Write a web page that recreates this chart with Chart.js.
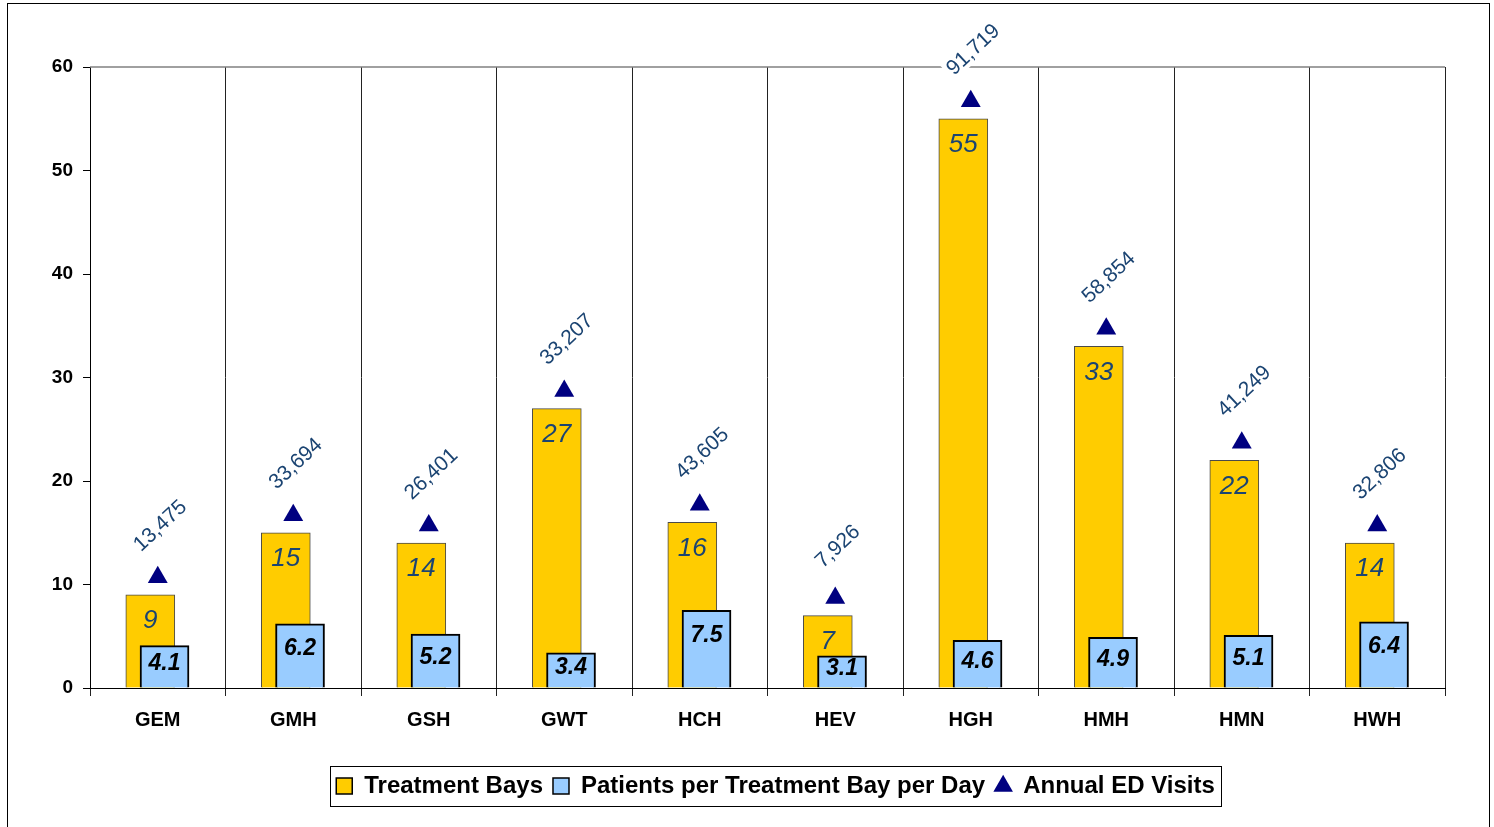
<!DOCTYPE html>
<html>
<head>
<meta charset="utf-8">
<script src="https://cdn.jsdelivr.net/npm/chart.js@4.4.1/dist/chart.umd.min.js"></script>
<style>
  html, body { margin: 0; padding: 0; background: #fff; overflow: hidden; }
  #frame { position: absolute; left: 7px; top: 3px; width: 1481px; height: 900px; border: 1px solid #000; }
  #wrap { position: absolute; left: 0; top: 0; width: 1494px; height: 827px; }
</style>
</head>
<body>
<div id="frame"></div>
<div id="wrap"><canvas id="edChart" width="1494" height="827"></canvas></div>
<script>
// data
const categories = ['GEM', 'GMH', 'GSH', 'GWT', 'HCH', 'HEV', 'HGH', 'HMH', 'HMN', 'HWH'];
const treatmentBays = [9, 15, 14, 27, 16, 7, 55, 33, 22, 14];
const patientsPerBay = [4.1, 6.2, 5.2, 3.4, 7.5, 3.1, 4.6, 4.9, 5.1, 6.4];
const annualVisits = ['13,475', '33,694', '26,401', '33,207', '43,605', '7,926', '91,719', '58,854', '41,249', '32,806'];
const visitMarkerLevel = [10.7, 16.7, 15.7, 28.7, 17.7, 8.7, 56.7, 34.7, 23.7, 15.7];
const yTicks = [0, 10, 20, 30, 40, 50, 60];

const FONT = "'Liberation Sans', Arial, sans-serif";
const labelBlue = '#1B4472';

const bayPoints = treatmentBays.map((v, i) => ({ x: i - 0.055, y: v }));
const patientPoints = patientsPerBay.map((v, i) => ({ x: i + 0.05, y: v }));
const visitPoints = visitMarkerLevel.map((v, i) => ({ x: i, y: v }));

// top border of plot area, drawn under the bars
const plotTop = {
  id: 'plotTop',
  beforeDatasetsDraw(chart) {
    const { ctx, chartArea } = chart;
    ctx.save();
    ctx.strokeStyle = '#808080';
    ctx.lineWidth = 1.5;
    ctx.beginPath();
    ctx.moveTo(chartArea.left, chartArea.top);
    ctx.lineTo(chartArea.right, chartArea.top);
    ctx.stroke();
    ctx.restore();
  }
};

const valueLabels = {
  id: 'valueLabels',
  afterDatasetsDraw(chart) {
    const ctx = chart.ctx;
    const base = chart.scales.y.getPixelForValue(0);
    ctx.save();
    ctx.textAlign = 'center';
    ctx.textBaseline = 'middle';

    ctx.fillStyle = labelBlue;
    ctx.font = 'italic 26px ' + FONT;
    chart.getDatasetMeta(0).data.forEach((bar, i) => {
      ctx.fillText(treatmentBays[i], bar.x, bar.y + 26);
    });

    ctx.fillStyle = '#000';
    ctx.font = 'italic bold 23px ' + FONT;
    chart.getDatasetMeta(1).data.forEach((bar, i) => {
      const y = Math.min(bar.y + 25, (bar.y + base) / 2 - 3);
      ctx.fillText(patientsPerBay[i].toFixed(1), bar.x, y);
    });

    ctx.font = '21px ' + FONT;
    chart.getDatasetMeta(2).data.forEach((pt, i) => {
      const cx = pt.x + 2, cy = pt.y - 52;
      ctx.save();
      ctx.translate(cx, cy);
      ctx.rotate(-43 * Math.PI / 180);
      const w = ctx.measureText(annualVisits[i]).width;
      ctx.fillStyle = '#fff';
      ctx.fillRect(-w / 2 - 3, -11, w + 6, 22);
      ctx.fillStyle = labelBlue;
      ctx.fillText(annualVisits[i], 0, 1);
      ctx.restore();
    });
    ctx.restore();
  }
};

// the legend sits right of centre in the original
const legendShift = 48;
const legendMove = {
  id: 'legendMove',
  afterUpdate(chart) {
    const lg = chart.legend;
    lg.left += legendShift;
    lg.right += legendShift;
    (lg.legendHitBoxes || []).forEach(b => { b.left += legendShift; });
  }
};

// box around the legend
const legendBox = {
  id: 'legendBox',
  afterDraw(chart) {
    const boxes = chart.legend.legendHitBoxes;
    if (!boxes || !boxes.length) return;
    const left = Math.min(...boxes.map(b => b.left)) - 6;
    const right = Math.max(...boxes.map(b => b.left + b.width)) + 6;
    const top = Math.min(...boxes.map(b => b.top)) - 8;
    const bottom = Math.max(...boxes.map(b => b.top + b.height)) + 8;
    const ctx = chart.ctx;
    ctx.save();
    ctx.strokeStyle = '#000';
    ctx.lineWidth = 1;
    ctx.strokeRect(Math.round(left) + 0.5, Math.round(top) + 0.5, Math.round(right - left), Math.round(bottom - top));
    ctx.restore();
  }
};

const ctx = document.getElementById('edChart').getContext('2d');
const edChart = new Chart(ctx, {
  type: 'bar',
  data: {
    labels: categories,
    datasets: [{
      label: 'Treatment Bays',
      data: bayPoints,
      xAxisID: 'xl',
      backgroundColor: '#FFCC00',
      borderColor: '#4a4a4a',
      borderWidth: 1,
      barThickness: 49,
      grouped: false,
      pointStyle: 'rect',
      order: 2
    }, {
      label: 'Patients per Treatment Bay per Day',
      data: patientPoints,
      xAxisID: 'xl',
      backgroundColor: '#99CCFF',
      borderColor: '#000',
      borderWidth: 2,
      barThickness: 49,
      grouped: false,
      pointStyle: 'rect',
      order: 1
    }, {
      type: 'scatter',
      label: 'Annual ED Visits',
      data: visitPoints,
      xAxisID: 'xl',
      pointStyle: 'triangle',
      pointRadius: 11.5,
      backgroundColor: '#000080',
      borderColor: '#000080',
      borderWidth: 0,
      order: 0
    }]
  },
  options: {
    responsive: false,
    animation: false,
    devicePixelRatio: 1,
    layout: { padding: { left: 10, right: 49, top: 67, bottom: 19 } },
    plugins: {
      tooltip: { enabled: false },
      legend: {
        position: 'bottom',
        labels: {
          usePointStyle: true,
          boxHeight: 16,
          boxWidth: 16,
          padding: 10,
          color: '#000',
          font: { family: FONT, size: 24, weight: 'bold' },
          sort: (a, b) => a.datasetIndex - b.datasetIndex,
          generateLabels(chart) {
            const ds = chart.data.datasets;
            return ds.map((d, i) => ({
              text: d.label,
              datasetIndex: i,
              fillStyle: d.backgroundColor,
              strokeStyle: i === 2 ? '#000080' : '#000',
              lineWidth: i === 2 ? 0 : 1.5,
              pointStyle: d.pointStyle,
              hidden: false
            }));
          }
        }
      }
    },
    scales: {
      x: {
        type: 'category',
        labels: categories,
        offset: true,
        grid: { offset: true, color: '#222', lineWidth: 1, drawTicks: true, tickLength: 8 },
        border: { color: '#000', width: 1 },
        ticks: { color: '#000', font: { family: FONT, size: 20, weight: 'bold' }, padding: 12 },
        afterFit: s => { s.height = 76; }
      },
      xl: {
        type: 'linear',
        display: false,
        offset: false,
        bounds: 'ticks',
        min: -0.5,
        max: 9.5
      },
      y: {
        min: 0,
        max: 60,
        afterBuildTicks: s => { s.ticks = yTicks.map(v => ({ value: v })); },
        grid: { drawOnChartArea: false, drawTicks: true, tickLength: 7, color: '#000' },
        border: { color: '#000', width: 1 },
        ticks: { color: '#000', font: { family: FONT, size: 19, weight: 'bold' }, padding: 10 },
        afterFit: s => { s.width = 80; }
      }
    }
  },
  plugins: [plotTop, valueLabels, legendMove, legendBox]
});
</script>
</body>
</html>
